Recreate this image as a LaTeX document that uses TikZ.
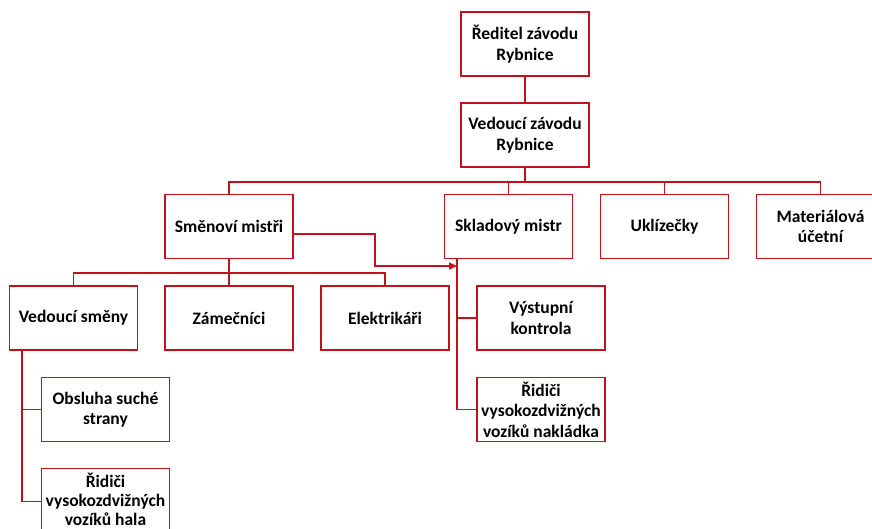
\documentclass[tikz,border=0pt]{standalone}
\usepackage{fontspec}
\setmainfont{Carlito}
\usetikzlibrary{arrows.meta,calc}
\definecolor{boxred}{RGB}{196,16,28}
\begin{document}
\begin{tikzpicture}[x=1pt,y=-1pt,
  box/.style={draw=boxred,line width=1.4pt,minimum width=128pt,minimum height=64pt,
    align=center,inner sep=0pt,fill=white,font=\fontsize{17.5}{20.5}\selectfont\bfseries},
  conn/.style={draw=boxred,line width=1.4pt},
  arr/.style={conn,-{Triangle[length=8pt,width=7pt]}}]
\useasboundingbox (0,0) rectangle (872,528);
\clip (0,0) rectangle (872,528);
\fill[white] (0,0) rectangle (872,528);
% nodes
\node[box] (r)  at (525,44)    {Ředitel závodu\\Rybnice};
\node[box] (v)  at (525,135)   {Vedoucí závodu\\Rybnice};
\node[box] (sm) at (229,226.5) {Směnoví mistři};
\node[box] (sk) at (508.5,226.5) {Skladový mistr};
\node[box] (uk) at (664.5,226.5) {Uklízečky};
\node[box] (ma) at (820.5,226.5) {Materiálová\\účetní};
\node[box] (vs) at (73.5,318)  {Vedoucí směny};
\node[box] (za) at (229,318)   {Zámečníci};
\node[box] (el) at (385,318)   {Elektrikáři};
\node[box] (vk) at (541,318)   {Výstupní\\kontrola};
\node[box] (rn) at (541,409.5) {Řidiči\\vysokozdvižných\\vozíků nakládka};
\node[box] (os) at (105.5,409.5) {Obsluha suché\\strany};
\node[box,minimum height=62pt,font=\fontsize{17.5}{18.8}\selectfont\bfseries] (rh) at (105.5,499.5) {Řidiči\\vysokozdvižných\\vozíků hala};
% coordinates
\coordinate (b1) at (525,182);
\coordinate (b2) at (229,273);
\coordinate (smo) at (293,234);
\coordinate (k1) at (375,234);
\coordinate (k2) at (375,266);
\coordinate (skl) at (457,258);
\coordinate (skt) at (457,266);
\coordinate (skb) at (457,409.5);
\coordinate (vsl) at (22,350);
\coordinate (vsb) at (22,501.5);
% connectors
\draw[conn] (r.south) -- (v.north);
\draw[conn] (v.south) -- (b1);
\draw[conn] (sm.north) |- (b1) -| (ma.north);
\draw[conn] (sk.north) -- (sk.north |- b1);
\draw[conn] (uk.north) -- (uk.north |- b1);
\draw[conn] (sm.south) -- (b2);
\draw[conn] (vs.north) |- (b2) -| (el.north);
\draw[conn] (za.north) -- (b2);
\draw[arr] (smo) -- (k1) -- (k2) -- (skt);
\draw[conn] (skl) -- (skb) -- (rn.west);
\draw[conn] (vk.west) -- (vk.west -| skl);
\draw[conn] (vsl) -- (vsb) -- (rh.west |- vsb);
\draw[conn] (os.west) -- (os.west -| vsl);
\end{tikzpicture}
\end{document}
